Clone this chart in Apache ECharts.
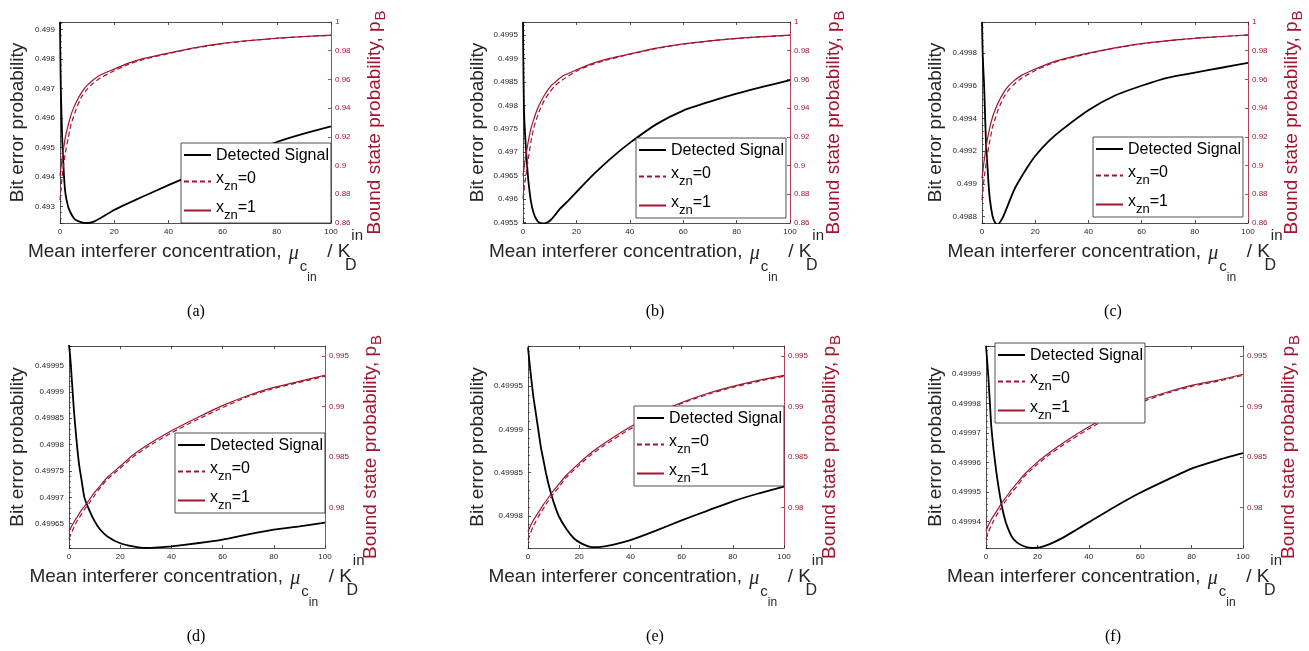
<!DOCTYPE html>
<html><head><meta charset="utf-8">
<script src="https://cdn.jsdelivr.net/npm/echarts@6/dist/echarts.min.js"></script>
<style>html,body{margin:0;padding:0;background:#fff;}#c{width:1309px;height:651px;}</style>
</head><body><div id="c"></div>
<script>
// ---------- data ----------
const xRed = [0, 0.5, 1, 2, 3, 4, 5, 6, 8, 10, 12, 15, 20, 25, 30, 40, 50, 60, 70, 80, 90, 100];
const xTicks = [0, 20, 40, 60, 80, 100];

// (a)
const xA = [0, 0.15, 0.3, 0.5, 0.75, 1, 1.5, 2, 3, 4, 5, 6, 8, 10, 12, 15, 20, 25, 30, 40, 50, 60, 70, 80, 90, 100];
const berA = [0.49925, 0.4980, 0.4970, 0.4963, 0.4955, 0.4949, 0.4940, 0.49345, 0.4930, 0.49278, 0.49263, 0.49254, 0.49247, 0.49245, 0.49248, 0.49262, 0.49289, 0.49311, 0.49332, 0.49373, 0.49412, 0.49450, 0.49486, 0.49519, 0.49547, 0.49572];
const pb0A = [0.876, 0.887, 0.896, 0.909, 0.919, 0.928, 0.934, 0.9395, 0.948, 0.953, 0.957, 0.9612, 0.966, 0.9703, 0.9735, 0.978, 0.9819, 0.9849, 0.987, 0.9886, 0.9898, 0.9907];
const pb1A = [0.893, 0.901, 0.908, 0.920, 0.928, 0.935, 0.940, 0.9443, 0.951, 0.9558, 0.9593, 0.9632, 0.9672, 0.9712, 0.9741, 0.9783, 0.9822, 0.9851, 0.9871, 0.9887, 0.9899, 0.9908];
// (b)
const xB = [0, 0.15, 0.3, 0.5, 0.75, 1, 1.5, 2, 3, 4, 5, 6, 7.5, 9, 10.5, 12, 14, 17, 20, 25, 30, 35, 40, 50, 60, 70, 80, 90, 100];
const berB = [0.49978, 0.4988, 0.4981, 0.4977, 0.4974, 0.49718, 0.49675, 0.4964, 0.49594, 0.4957, 0.49557, 0.4955, 0.49548, 0.4955, 0.49556, 0.49566, 0.4958, 0.49597, 0.49615, 0.49645, 0.49672, 0.49697, 0.4972, 0.4976, 0.49789, 0.49808, 0.49825, 0.4984, 0.49854];
const pb0B = [0.877, 0.885, 0.892, 0.905, 0.917, 0.926, 0.932, 0.9375, 0.9455, 0.951, 0.9555, 0.960, 0.9658, 0.9698, 0.9728, 0.9775, 0.9815, 0.9846, 0.9868, 0.9885, 0.9897, 0.9907];
const pb1B = [0.893, 0.900, 0.906, 0.917, 0.926, 0.932, 0.9375, 0.942, 0.949, 0.9545, 0.958, 0.9625, 0.9667, 0.9705, 0.9735, 0.9778, 0.9818, 0.9848, 0.9869, 0.9886, 0.9898, 0.9908];
// (c)
const xC = [0, 0.25, 0.5, 0.75, 1, 1.5, 2, 2.5, 3, 4, 5, 6, 7, 8, 10, 12, 14, 17, 20, 25, 30, 40, 50, 60, 70, 80, 90, 100];
const berC = [0.49999, 0.4998, 0.4997, 0.49962, 0.4995, 0.49925, 0.49912, 0.49899, 0.4989, 0.4988, 0.49876, 0.49875, 0.49877, 0.4988, 0.49888, 0.49896, 0.49902, 0.4991, 0.49917, 0.49926, 0.49933, 0.49945, 0.49954, 0.4996, 0.49965, 0.49968, 0.49971, 0.49974];
const pb0C = [0.876, 0.886, 0.894, 0.907, 0.918, 0.927, 0.933, 0.9385, 0.947, 0.9525, 0.9565, 0.961, 0.9662, 0.9703, 0.9735, 0.978, 0.9818, 0.9848, 0.9869, 0.9886, 0.9898, 0.9909];
const pb1C = [0.891, 0.899, 0.906, 0.918, 0.927, 0.934, 0.939, 0.9435, 0.9505, 0.9555, 0.959, 0.963, 0.9672, 0.971, 0.974, 0.9783, 0.982, 0.985, 0.987, 0.9887, 0.9899, 0.991];
// (d)
const xD = [0, 0.5, 1, 1.5, 2, 3, 4, 5, 6, 8, 10, 12, 15, 20, 25, 30, 35, 40, 50, 60, 70, 80, 90, 100];
const berD = [0.49999, 0.499965, 0.49993, 0.499895, 0.49986, 0.499805, 0.49976, 0.49973, 0.4997, 0.499675, 0.499655, 0.49964, 0.499626, 0.499613, 0.499607, 0.499604, 0.499605, 0.499607, 0.499613, 0.49962, 0.49963, 0.499639, 0.499645, 0.499652];
const pb0D = [0.9769, 0.9772, 0.9775, 0.9781, 0.9786, 0.9790, 0.9794, 0.9798, 0.9805, 0.9812, 0.9819, 0.9828, 0.9839, 0.9850, 0.9859, 0.9874, 0.9887, 0.9899, 0.9910, 0.9918, 0.9924, 0.9930];
const pb1D = [0.9777, 0.9779, 0.97815, 0.9786, 0.9790, 0.9794, 0.9798, 0.9801, 0.9808, 0.9815, 0.9821, 0.9830, 0.9841, 0.9852, 0.9861, 0.9876, 0.9889, 0.9901, 0.9911, 0.9919, 0.9925, 0.9931];
// (e)
const xE = [0, 0.5, 1, 2, 3, 4, 5, 6, 7, 8, 9, 10, 12, 15, 18, 21, 25, 30, 35, 40, 50, 60, 70, 80, 90, 100];
const berE = [0.499995, 0.49998, 0.499966, 0.49994, 0.49992, 0.4999, 0.49988, 0.499865, 0.49985, 0.499837, 0.499826, 0.499816, 0.4998, 0.499785, 0.499774, 0.499768, 0.499764, 0.499765, 0.499768, 0.499772, 0.499783, 0.499795, 0.499806, 0.499817, 0.499826, 0.499834];
const pb0E = [0.9768, 0.9771, 0.9775, 0.9781, 0.9786, 0.9791, 0.9795, 0.9799, 0.9807, 0.9814, 0.9820, 0.9830, 0.9842, 0.9853, 0.9862, 0.9878, 0.9891, 0.9903, 0.9912, 0.9919, 0.9925, 0.9930];
const pb1E = [0.9776, 0.9779, 0.9782, 0.9787, 0.9791, 0.9795, 0.9799, 0.9803, 0.9810, 0.9817, 0.9823, 0.9832, 0.9844, 0.9855, 0.9864, 0.9880, 0.9893, 0.9904, 0.9913, 0.9920, 0.9926, 0.9931];
// (f)
const xF = [0, 0.5, 1, 2, 3, 4, 5, 6, 7, 8, 10, 12, 15, 18, 20, 22, 25, 30, 35, 40, 50, 60, 70, 80, 90, 100];
const berF = [0.4999995, 0.499994, 0.499988, 0.499973, 0.499964, 0.499957, 0.499951, 0.499946, 0.499942, 0.499939, 0.499935, 0.499933, 0.4999316, 0.4999311, 0.4999312, 0.4999316, 0.4999325, 0.4999346, 0.4999372, 0.4999398, 0.499945, 0.4999498, 0.499954, 0.499958, 0.4999608, 0.4999632];
const pb0F = [0.9769, 0.9772, 0.9776, 0.9782, 0.9787, 0.9792, 0.9796, 0.9800, 0.9808, 0.9815, 0.9821, 0.9831, 0.9843, 0.9853, 0.9862, 0.9878, 0.9892, 0.9904, 0.9913, 0.9920, 0.9925, 0.9931];
const pb1F = [0.9777, 0.9780, 0.9783, 0.9788, 0.9792, 0.9796, 0.9800, 0.9804, 0.9811, 0.9818, 0.9824, 0.9833, 0.9845, 0.9855, 0.9864, 0.9880, 0.9894, 0.9906, 0.9914, 0.9921, 0.9926, 0.9932];

const legendNames = ['Detected Signal', 'x_zn=0', 'x_zn=1'];
const captions = ['(a)', '(b)', '(c)', '(d)', '(e)', '(f)'];

// ---------- layout ----------
const RED = '#A2142F', AX = '#262626';
const FONT = '"Liberation Sans", Arial, Helvetica, sans-serif';
const panels = [
  {x: xA, ber: berA, pb0: pb0A, pb1: pb1A, g: [60, 22, 271, 201], yL: [0.49245, 0.49925], sL: 0.001, yR: [0.86, 1], sR: 0.02, leg: [181, 143], gapL: 33, gapR: 34, cap: [196, 312]},
  {x: xB, ber: berB, pb0: pb0B, pb1: pb1B, g: [523, 22, 267, 201], yL: [0.49549, 0.49978], sL: 0.0005, yR: [0.86, 1], sR: 0.02, leg: [636, 138], gapL: 36, gapR: 34, cap: [655, 312]},
  {x: xC, ber: berC, pb0: pb0C, pb1: pb1C, g: [982, 22, 266, 201], yL: [0.49876, 0.49999], sL: 0.0002, yR: [0.86, 1], sR: 0.02, leg: [1093, 137], gapL: 37, gapR: 34, cap: [1113, 312]},
  {x: xD, ber: berD, pb0: pb0D, pb1: pb1D, g: [69, 346, 256, 202], yL: [0.499604, 0.499987], sL: 0.00005, yR: [0.976, 0.996], sR: 0.005, leg: [175, 433], gapL: 42, gapR: 36, cap: [196, 637]},
  {x: xE, ber: berE, pb0: pb0E, pb1: pb1E, g: [528, 346, 256, 202], yL: [0.499763, 0.4999965], sL: 0.00005, yR: [0.976, 0.996], sR: 0.005, leg: [634, 406], gapL: 41, gapR: 36, cap: [655, 637]},
  {x: xF, ber: berF, pb0: pb0F, pb1: pb1F, g: [986, 346, 257, 202], yL: [0.4999311, 0.4999995], sL: 0.00001, yR: [0.976, 0.996], sR: 0.005, leg: [995, 343], gapL: 41, gapR: 36, cap: [1113, 637]}
];

const isMult = (v, s) => Math.abs(Math.round(v / s) * s - v) < s * 1e-6;
const zip = (xs, ys) => xs.map((x, k) => [x, ys[k]]);

const xNameRich = {
  t: {fontSize: 19, color: AX, fontFamily: FONT, verticalAlign: 'top', padding: [14, 0, 0, 0]},
  mu: {fontSize: 20, color: AX, fontFamily: '"Liberation Serif", serif', fontStyle: 'italic', verticalAlign: 'top', padding: [16, 1, 0, 2]},
  c: {fontSize: 15, color: AX, fontFamily: FONT, verticalAlign: 'top', padding: [31, 0, 0, 0]},
  i: {fontSize: 12, color: AX, fontFamily: FONT, verticalAlign: 'top', padding: [44, 0, 0, 0]},
  D: {fontSize: 16, color: AX, fontFamily: FONT, verticalAlign: 'top', padding: [30, 0, 0, 0], width: 1},
  sup: {fontSize: 15, color: AX, fontFamily: FONT, verticalAlign: 'top', padding: [0, 0, 0, 0]}
};
const xName = '{t|Mean interferer concentration, }{mu|μ}{c|c}{i|in}{t|  / K}{D|D}{sup|in}';

const grids = [], xAxes = [], yAxes = [], series = [], legends = [], graphics = [];
panels.forEach((p, i) => {
  grids.push({left: p.g[0], top: p.g[1], width: p.g[2], height: p.g[3], containLabel: false});
  const axLine = {show: true, onZero: false, lineStyle: {color: AX, width: 0.8}};
  xAxes.push({
    type: 'value', gridIndex: i, position: 'bottom', min: xTicks[0], max: xTicks[xTicks.length - 1], interval: 20,
    axisLine: axLine, axisTick: {show: true, inside: true, length: 3, lineStyle: {color: AX, width: 0.8}},
    axisLabel: {fontSize: 8, color: AX, margin: 5, fontFamily: FONT}, splitLine: {show: false},
    name: xName, nameLocation: 'middle', nameGap: 5, nameMoveOverlap: false, nameTextStyle: {rich: xNameRich}
  });
  xAxes.push({
    type: 'value', gridIndex: i, position: 'top', min: xTicks[0], max: xTicks[xTicks.length - 1], interval: 20,
    axisLine: axLine, axisTick: {show: true, inside: true, length: 3, lineStyle: {color: AX, width: 0.8}},
    axisLabel: {show: false}, splitLine: {show: false}
  });
  yAxes.push({
    type: 'value', gridIndex: i, position: 'left', min: p.yL[0], max: p.yL[1],
    minInterval: p.sL, maxInterval: p.sL, splitNumber: 6,
    axisLine: axLine, axisTick: {show: true, inside: true, length: 3, lineStyle: {color: AX, width: 0.8}},
    minorTick: {show: true, splitNumber: 5, length: 2, lineStyle: {color: AX, width: 0.6}},
    axisLabel: {fontSize: 8, color: AX, margin: 5, fontFamily: FONT,
      showMinLabel: isMult(p.yL[0], p.sL), showMaxLabel: isMult(p.yL[1], p.sL)},
    splitLine: {show: false},
    name: 'Bit error probability', nameLocation: 'middle', nameGap: p.gapL, nameMoveOverlap: false,
    nameTextStyle: {fontSize: 19, color: AX, fontFamily: FONT}
  });
  yAxes.push({
    type: 'value', gridIndex: i, position: 'right', min: p.yR[0], max: p.yR[1],
    minInterval: p.sR, maxInterval: p.sR, splitNumber: 6,
    axisLine: {show: true, onZero: false, lineStyle: {color: RED, width: 0.8}},
    axisTick: {show: true, inside: true, length: 3, lineStyle: {color: RED, width: 0.8}},
    axisLabel: {fontSize: 8, color: RED, margin: 4, fontFamily: FONT,
      showMinLabel: isMult(p.yR[0], p.sR), showMaxLabel: isMult(p.yR[1], p.sR)},
    splitLine: {show: false},
    name: '{t|Bound state probability, p}{s|B}', nameLocation: 'middle', nameGap: p.gapR, nameMoveOverlap: false,
    nameTextStyle: {rich: {
      t: {fontSize: 19, color: RED, fontFamily: FONT, verticalAlign: 'top', padding: [0, 0, 0, 0]},
      s: {fontSize: 15, color: RED, fontFamily: FONT, verticalAlign: 'top', padding: [8, 0, 0, 1]}
    }}
  });
  const common = {type: 'line', showSymbol: false, symbol: 'none', smooth: 0.2, animation: false, silent: true, clip: true};
  series.push(Object.assign({}, common, {name: legendNames[0], xAxisIndex: 2 * i, yAxisIndex: 2 * i,
    data: zip(p.x, p.ber), lineStyle: {color: '#000', width: 1.8}, itemStyle: {color: '#000'}, z: 2}));
  series.push(Object.assign({}, common, {name: legendNames[1], xAxisIndex: 2 * i, yAxisIndex: 2 * i + 1,
    data: zip(xRed, p.pb0), lineStyle: {color: RED, width: 1.2, type: [5, 3]}, itemStyle: {color: RED}, z: 3}));
  series.push(Object.assign({}, common, {name: legendNames[2], xAxisIndex: 2 * i, yAxisIndex: 2 * i + 1,
    data: zip(xRed, p.pb1), lineStyle: {color: RED, width: 1.2}, itemStyle: {color: RED}, z: 3}));
  legends.push({
    data: legendNames, orient: 'vertical', left: p.leg[0], top: p.leg[1],
    itemWidth: 27, itemHeight: 14, itemGap: 4, padding: [2, 2, 1, 2],
    backgroundColor: '#fff', borderColor: AX, borderWidth: 0.8, borderRadius: 0,
    selectedMode: false, z: 10,
    itemStyle: {opacity: 0, borderWidth: 0},
    formatter: n => n === legendNames[0] ? '{m|Detected Signal}' : '{m|x}{s|zn}{m|=' + n.slice(-1) + '}',
    textStyle: {color: '#000', fontFamily: FONT, fontSize: 16, rich: {
      m: {fontSize: 16, color: '#000', fontFamily: FONT, verticalAlign: 'top', lineHeight: 20, padding: [3, 0, 0, 0]},
      s: {fontSize: 13, color: '#000', fontFamily: FONT, verticalAlign: 'top', lineHeight: 27, padding: [12, 0, 0, 0]}
    }}
  });
  graphics.push({type: 'text', x: p.cap[0], y: p.cap[1], silent: true,
    style: {text: captions[i], fill: '#000', font: '16px "Liberation Serif", "Times New Roman", serif',
      align: 'center', verticalAlign: 'middle', textAlign: 'center', textVerticalAlign: 'middle'}});
});

const chart = echarts.init(document.getElementById('c'), null, {renderer: 'canvas'});
chart.setOption({
  animation: false, backgroundColor: '#fff',
  grid: grids, xAxis: xAxes, yAxis: yAxes, series: series, legend: legends, graphic: graphics
});
</script>
</body></html>
